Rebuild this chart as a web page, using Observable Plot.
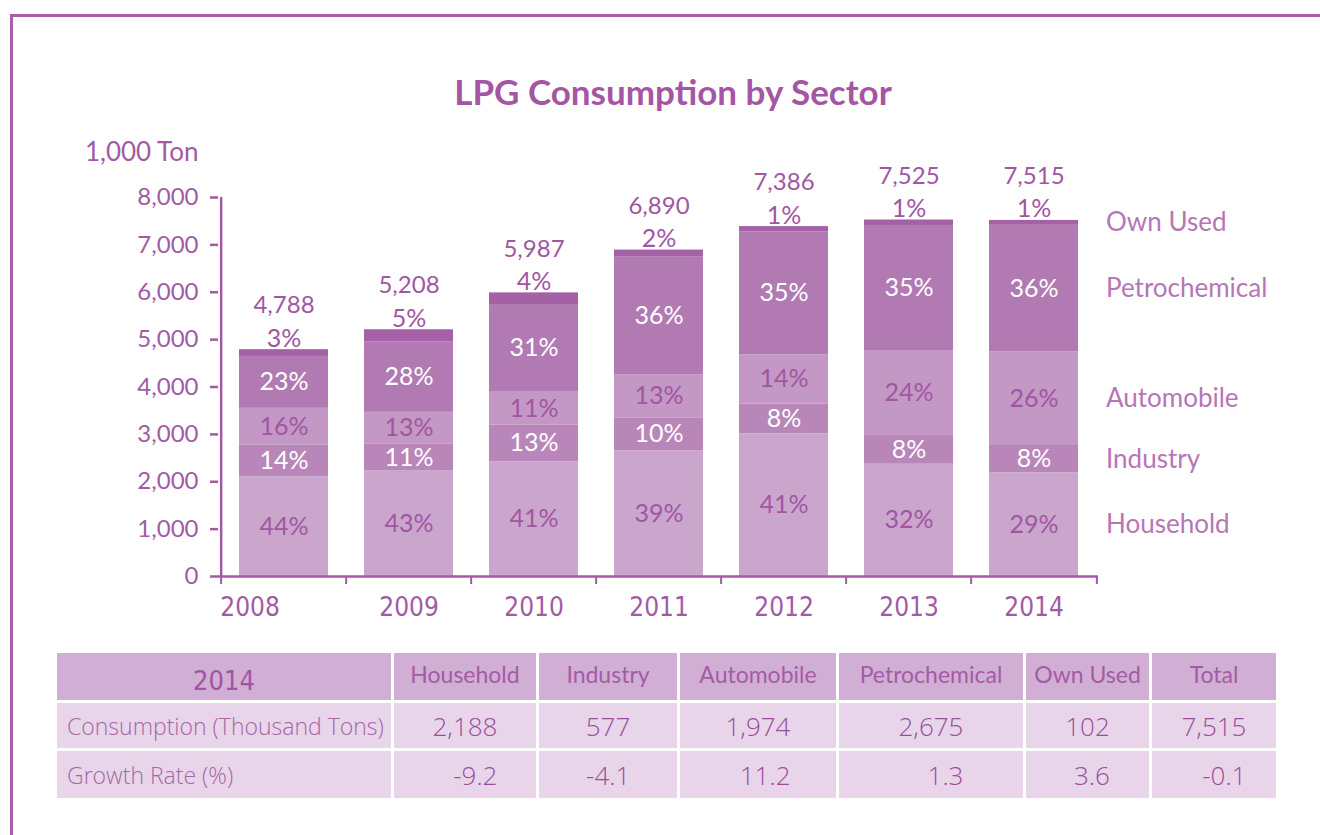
<!DOCTYPE html>
<html>
<head>
<meta charset="utf-8">
<script src="https://cdn.jsdelivr.net/npm/d3@7"></script>
<script src="https://cdn.jsdelivr.net/npm/@observablehq/plot@0.6"></script>
<style>
  html, body { margin: 0; padding: 0; background: #fff; }
  body { width: 1320px; height: 835px; overflow: hidden; position: relative; font-family: Lato, "Noto Sans", sans-serif; }
  #frameTop { position: absolute; left: 10px; top: 14px; width: 1310px; height: 3px; background: #a95ea9; }
  #frameLeft { position: absolute; left: 10px; top: 14px; width: 3px; height: 821px; background: #a95ea9; }
  #title { position: absolute; left: 0; width: 1346px; top: 71px; line-height: 40px; text-align: center;
           font-size: 35px; font-weight: bold; color: #a456a5; font-family: Lato, "Noto Sans", sans-serif; }
  #chart { position: absolute; left: 0; top: 130px; }
  #tbl { position: absolute; left: 54px; top: 650px; width: 1225px; border-collapse: separate; border-spacing: 3px; table-layout: fixed; }
  #tbl td, #tbl th { padding: 0; box-sizing: border-box; white-space: nowrap; overflow: hidden; }
  #tbl th { background: #d1aed3; color: #a45ba6; font-weight: normal; font-size: 23px; text-align: center;
            font-family: Lato, "Noto Sans", sans-serif; padding-bottom: 5px; }
  #tbl th.yr { font-size: 27px; color: #a253a3; font-family: "DejaVu Sans Condensed", "Liberation Sans Narrow", "Roboto Condensed", "Noto Sans", sans-serif; padding-top: 8px; padding-bottom: 0; }
  #tbl td { background: #e8d5e9; color: #9a4d9b; font-size: 26px; text-align: center;
            font-family: "Open Sans", "DejaVu Sans Condensed", sans-serif; font-weight: 300; }
  #tbl td.lab { text-align: left; padding-left: 10px; font-size: 23px; color: #a766a8; }
  #tbl tr.h th { height: 47px; }
  #tbl tr.r1 td { height: 45px; }
  #tbl tr.r2 td { height: 47px; }
</style>
</head>
<body>
<div id="frameTop"></div>
<div id="frameLeft"></div>
<div id="title">LPG Consumption by Sector</div>
<div id="chart"></div>
<script>
// ---------- data ----------
const years = ["2008", "2009", "2010", "2011", "2012", "2013", "2014"];
const totals = [4788, 5208, 5987, 6890, 7386, 7525, 7515];
const sectors = ["Household", "Industry", "Automobile", "Petrochemical", "Own Used"];
const household     = [2100, 2225, 2420, 2650, 3010, 2370, 2188];
const industry      = [670, 565, 780, 700, 630, 605, 577];
const automobile    = [780, 675, 690, 910, 1040, 1795, 1974];
const petrochemical = [1095, 1490, 1850, 2490, 2590, 2640, 2675];
const ownUsed       = [143, 253, 247, 140, 116, 115, 102];
const householdPct     = [44, 43, 41, 39, 41, 32, 29];
const industryPct      = [14, 11, 13, 10, 8, 8, 8];
const automobilePct    = [16, 13, 11, 13, 14, 24, 26];
const petrochemicalPct = [23, 28, 31, 36, 35, 35, 36];
const ownUsedPct       = [3, 5, 4, 2, 1, 1, 1];
const yTicks = [0, 1000, 2000, 3000, 4000, 5000, 6000, 7000, 8000];
const yUnit = "1,000 Ton";

const tableYear = "2014";
const tableCols = ["Household", "Industry", "Automobile", "Petrochemical", "Own Used", "Total"];
const tableRowLabels = ["Consumption (Thousand Tons)", "Growth Rate (%)"];
const consumption2014 = [2188, 577, 1974, 2675, 102, 7515];
const growth2014 = [-9.2, -4.1, 11.2, 1.3, 3.6, -0.1];

// ---------- styling ----------
const sectorColors = ["#caa6cd", "#b986b9", "#c398c4", "#b27ab2", "#a461a5"];
const axisColor = "#a35aa5";
const labelPurple = "#a156a2";
const legendColor = "#b676b6";
const whiteLabelSectors = ["Industry", "Petrochemical"];
const purpleLabelSectors = ["Household", "Automobile"];
const condensed = '"DejaVu Sans Condensed", "Liberation Sans Narrow", "Roboto Condensed", "Noto Sans", sans-serif';

// ---------- build tidy rows ----------
const seriesValues = [household, industry, automobile, petrochemical, ownUsed];
const seriesPct = [householdPct, industryPct, automobilePct, petrochemicalPct, ownUsedPct];
const rows = [];
years.forEach((yr, i) => {
  sectors.forEach((s, k) => rows.push({year: yr, sector: s, value: seriesValues[k][i], pct: seriesPct[k][i]}));
});
const tops = years.map((yr, i) => ({year: yr, total: totals[i], own: ownUsedPct[i]}));

const W = 1320, H = 510;
const mL = 218, mR = 222, mT = 67, mB = 64;
const step = (W - mL - mR) / years.length;
const stackOpts = {x: "year", y: "value", z: "sector", order: sectors};

const chart = Plot.plot({
  width: W, height: H,
  marginLeft: mL, marginRight: mR, marginTop: mT, marginBottom: mB,
  style: {fontFamily: 'Lato, "Noto Sans", sans-serif', background: "transparent", overflow: "visible"},
  x: {domain: years, paddingInner: 0.29, paddingOuter: 0.145, axis: null},
  y: {domain: [0, 8000], axis: null},
  color: {domain: sectors, range: sectorColors},
  marks: [
    Plot.barY(rows, {x: "year", y: "value", fill: "sector", order: sectors}),
    // axes
    Plot.axisY({ticks: yTicks, tickSize: 8, tickPadding: 12, tickFormat: d3.format(","), fontSize: 24,
                color: axisColor, strokeWidth: 2.5, label: null}),
    Plot.ruleX([years[0]], {dx: -step / 2, y1: 0, y2: 8000, stroke: axisColor, strokeWidth: 2.5}),
    Plot.ruleY([0], {stroke: axisColor, strokeWidth: 2.5}),
    Plot.axisX({ticks: years, tickSize: 8, tickFormat: () => "", dx: -step / 2, color: axisColor, strokeWidth: 2, label: null}),
    Plot.axisX({ticks: [years[years.length - 1]], tickSize: 8, tickFormat: () => "", dx: step / 2, color: axisColor, strokeWidth: 2, label: null}),
    Plot.axisX({ticks: years.slice(1), tickSize: 0, tickPadding: 21, fontSize: 26, fontFamily: condensed, color: axisColor, label: null}),
    Plot.axisX({ticks: [years[0]], tickSize: 0, tickPadding: 21, dx: -34, fontSize: 26, fontFamily: condensed, color: axisColor, label: null}),
    Plot.text([yUnit], {frameAnchor: "top-left", lineAnchor: "middle", dx: -20, dy: -45, textAnchor: "end", fontSize: 26, fill: axisColor}),
    // segment labels
    Plot.text(rows, Plot.filter(d => whiteLabelSectors.includes(d.sector),
      Plot.stackY({...stackOpts, text: d => d.pct + "%", fill: "white", fontSize: 25}))),
    Plot.text(rows, Plot.filter(d => purpleLabelSectors.includes(d.sector),
      Plot.stackY({...stackOpts, text: d => d.pct + "%", fill: labelPurple, fontSize: 25}))),
    // own used % and totals above bars
    Plot.text(tops, {x: "year", y: "total", text: d => d.own + "%", dy: -11, fill: labelPurple, fontSize: 25}),
    Plot.text(tops, {x: "year", y: "total", text: d => d3.format(",")(d.total), dy: -44, fill: labelPurple, fontSize: 24}),
    // right-hand labels
    Plot.text(rows, Plot.filter(d => d.year === years[years.length - 1],
      Plot.stackY({...stackOpts, text: "sector", dx: 72, textAnchor: "start", fill: legendColor, fontSize: 26})))
  ]
});
document.getElementById("chart").appendChild(chart);

// ---------- table ----------
const colWidths = [334, 142, 138, 156, 184, 123, 124];
const tbl = document.createElement("table");
tbl.id = "tbl";
const cg = document.createElement("colgroup");
colWidths.forEach(w => { const c = document.createElement("col"); c.style.width = w + "px"; cg.appendChild(c); });
tbl.appendChild(cg);
const trh = document.createElement("tr"); trh.className = "h";
const th0 = document.createElement("th"); th0.className = "yr"; th0.textContent = tableYear; trh.appendChild(th0);
tableCols.forEach(c => { const th = document.createElement("th"); th.textContent = c; trh.appendChild(th); });
tbl.appendChild(trh);
const tr1 = document.createElement("tr"); tr1.className = "r1";
const l1 = document.createElement("td"); l1.className = "lab"; l1.textContent = tableRowLabels[0]; tr1.appendChild(l1);
const consSpans = [];
consumption2014.forEach(v => { const td = document.createElement("td"); const sp = document.createElement("span"); sp.textContent = d3.format(",")(v); td.appendChild(sp); consSpans.push(sp); tr1.appendChild(td); });
tbl.appendChild(tr1);
const tr2 = document.createElement("tr"); tr2.className = "r2";
const l2 = document.createElement("td"); l2.className = "lab"; l2.textContent = tableRowLabels[1]; tr2.appendChild(l2);
const growCells = [];
growth2014.forEach(v => { const td = document.createElement("td"); td.textContent = d3.format(".1f")(v).replace("−", "-"); growCells.push(td); tr2.appendChild(td); });
tbl.appendChild(tr2);
document.body.appendChild(tbl);

function alignGrowth() {
  growCells.forEach(td => { td.style.textAlign = "center"; td.style.paddingRight = "0px"; });
  growCells.forEach((td, i) => {
    const cellR = td.getBoundingClientRect().right;
    const spanR = consSpans[i].getBoundingClientRect().right;
    td.style.textAlign = "right";
    td.style.paddingRight = Math.max(0, cellR - spanR) + "px";
  });
}
alignGrowth();
if (document.fonts && document.fonts.ready) document.fonts.ready.then(alignGrowth);
</script>
</body>
</html>
